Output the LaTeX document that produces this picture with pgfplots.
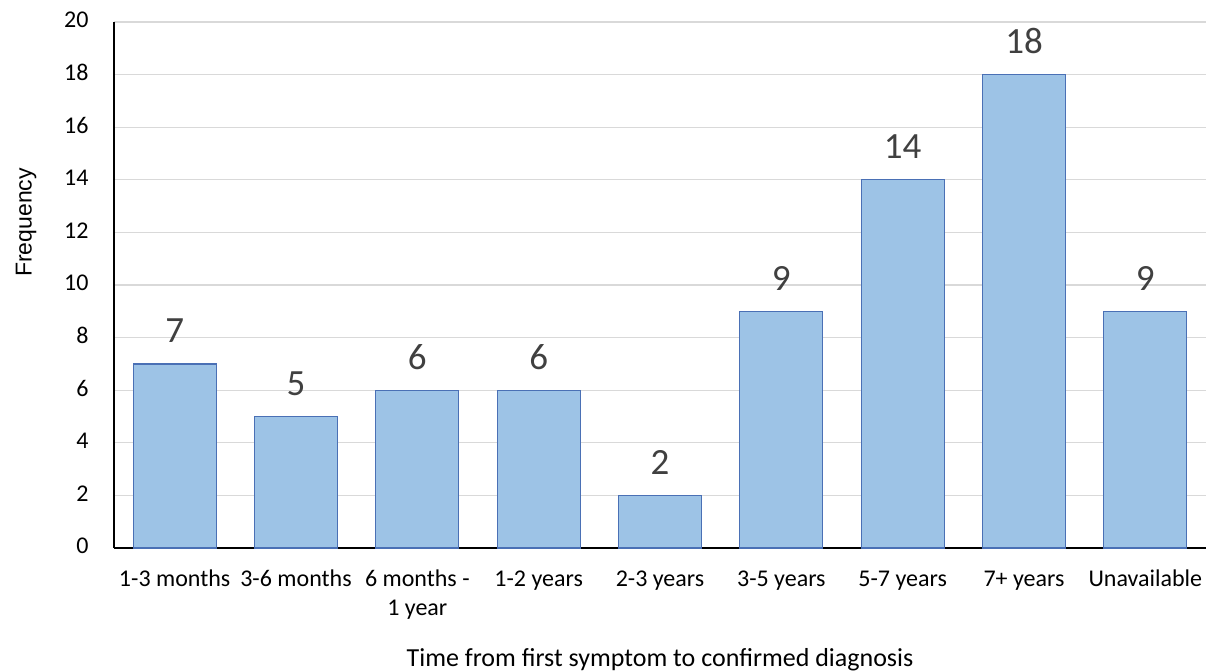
\documentclass[border=0pt]{standalone}
\usepackage{fontspec}
\setmainfont{Carlito}
\newfontfamily\labelsans{Liberation Sans}
\usepackage{pgfplots}
\pgfplotsset{compat=1.18}

\definecolor{barfill}{HTML}{9DC3E6}
\definecolor{baredge}{HTML}{4A70B5}
\definecolor{gridgray}{HTML}{D9D9D9}
\definecolor{valgray}{HTML}{404040}

\begin{document}
\begin{tikzpicture}
\begin{axis}[
  scale only axis,
  width=1092bp, height=526bp,
  xmin=-0.5, xmax=8.5,
  ymin=0, ymax=20,
  ytick={0,2,...,20},
  xtick=data,
  xticklabels={1-3 months, 3-6 months, {6 months -\\1 year}, 1-2 years,
               2-3 years, 3-5 years, 5-7 years, 7+ years, Unavailable},
  /pgf/number format/assume math mode=true,
  typeset ticklabels with strut,
  xticklabel style={align=center, anchor=north, inner sep=0pt, yshift=-17.4bp,
                    font=\fontsize{24bp}{29.5bp}\selectfont, text=black},
  yticklabel style={font=\fontsize{24bp}{29bp}\selectfont, text=black,
                    anchor=east, xshift=-22bp},
  major tick length=0pt,
  axis x line*=bottom,
  axis y line*=left,
  axis line style={black, line width=1.5bp},
  ymajorgrids,
  grid style={gridgray, line width=1.3bp},
  ybar,
  bar width=83bp,
  clip=false,
  nodes near coords,
  nodes near coords style={anchor=base, yshift=21bp,
                           font=\fontsize{37bp}{44bp}\selectfont, text=valgray},
  xlabel={Time from first symptom to confirmed diagnosis},
  xlabel style={at={(axis description cs:0.5,0)}, anchor=base, yshift=-118bp,
                font=\fontsize{26bp}{31bp}\selectfont, text=black},
  ylabel={Frequency},
  ylabel style={at={(axis description cs:-0.0754,0.619)}, anchor=base,
                font=\labelsans\fontsize{23bp}{28bp}\selectfont, text=black},
]
\addplot[fill=barfill, draw=baredge, line width=1.3bp]
  coordinates {(0,7) (1,5) (2,6) (3,6) (4,2) (5,9) (6,14) (7,18) (8,9)};
\coordinate (bl) at (rel axis cs:0,0);
\coordinate (tr) at (rel axis cs:1,1);
\end{axis}
\pgfresetboundingbox
\path ([shift={(-114bp,-123bp)}]bl) rectangle ([shift={(1bp,22bp)}]tr);
\end{tikzpicture}
\end{document}
